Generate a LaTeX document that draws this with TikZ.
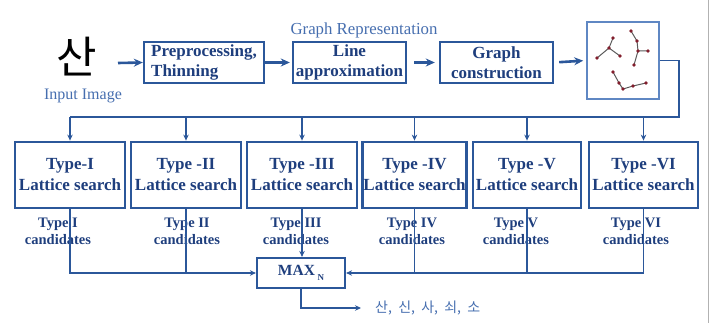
\documentclass[tikz,border=0pt]{standalone}
\usepackage{fontspec}
\setmainfont{Liberation Serif}
\newfontfamily\kr{Noto Sans CJK KR}
\usetikzlibrary{arrows.meta}
\definecolor{bl}{RGB}{43,87,154}
\definecolor{tx}{RGB}{30,62,125}
\definecolor{lt}{RGB}{70,110,175}
\definecolor{gb}{RGB}{95,135,195}
\definecolor{dotc}{RGB}{130,30,45}
\begin{document}
\begin{tikzpicture}[x=1pt,y=-1pt,
  box/.style={draw=bl, line width=2.4pt, inner sep=0pt, text=tx, align=center,
    font=\bfseries\fontsize{17}{20}\selectfont},
  tbox/.style={box, line width=2.8pt, minimum height=66, font=\bfseries\fontsize{17}{21}\selectfont},
  cand/.style={text=tx, align=center, inner sep=0pt, font=\bfseries\fontsize{14.5}{17}\selectfont},
  fat/.style={draw=bl, line width=2.6pt, -{Stealth[length=9pt,width=8pt]}},
  conn/.style={draw=bl, line width=1.6pt},
  carrow/.style={conn, -{Stealth[length=6pt,width=5.5pt]}},
  gline/.style={draw=black!65, line width=1pt},
  gdot/.style={fill=dotc, draw=none, circle, minimum size=3.6pt, inner sep=0pt}
]
\useasboundingbox (0,0) rectangle (711,323);
\draw[black!30, line width=1.6pt] (708.5,0) -- (708.5,323);

% top row
\node[inner sep=0pt, font=\kr\fontsize{44}{44}\selectfont] (s) at (77,57) {산};
\node[inner sep=0pt, text=lt, font=\fontsize{16}{18}\selectfont] (ii) at (83,96) {Input Image};
\node[box, minimum width=120, minimum height=41, align=left] (p) at (204,62.5) {Preprocessing,\\Thinning};
\node[box, minimum width=113, minimum height=41] (l) at (349.5,62.5) {Line\\approximation};
\node[box, minimum width=113, minimum height=41] (c) at (496.5,62.5) {Graph\\construction};
\node[draw=gb, line width=1.6pt, minimum width=72, minimum height=77, inner sep=0pt] (g) at (623,60.5) {};
\node[inner sep=0pt, text=lt, font=\fontsize{16.8}{18}\selectfont] (gr) at (364,30) {Graph Representation};

\coordinate (a0) at (118,63);
\draw[fat] (a0) -- (p.west);
\draw[fat, shorten >=2pt] (p.east) -- (l.west);
\draw[fat, shorten <=7pt, shorten >=4pt] (l.east) -- (c.west);
\draw[fat, shorten <=5pt, shorten >=3pt] (c.east) -- (g.west);

% graph sketch
\coordinate (q1) at (609,48);
\coordinate (q2) at (613,38);
\coordinate (q3) at (597,58);
\coordinate (q4) at (620,56);
\draw[gline] (q2) -- (q1) -- (q3) (q1) -- (q4);
\coordinate (r1) at (631,31);
\coordinate (r2) at (637,41);
\coordinate (r3) at (638,51);
\coordinate (r4) at (648,51);
\coordinate (r5) at (634,65);
\draw[gline] (r1) -- (r2) -- (r3) -- (r5) (r3) -- (r4);
\coordinate (u1) at (613,72);
\coordinate (u2) at (619,83);
\coordinate (u3) at (623,89);
\coordinate (u4) at (633,86);
\coordinate (u5) at (646,83);
\draw[gline] (u1) -- (u2) -- (u3) -- (u4) -- (u5);
\foreach \p in {q1,q2,q3,q4,r1,r2,r3,r4,r5,u1,u2,u3,u4,u5}
  \node[gdot] at (\p) {};

% type boxes
\node[tbox, minimum width=110] (t1) at (70,175) {Type-I\\Lattice search};
\node[tbox, minimum width=110] (t2) at (186,175) {Type -II\\Lattice search};
\node[tbox, minimum width=110] (t3) at (302,175) {Type -III\\Lattice search};
\node[tbox, minimum width=104] (t4) at (414.5,175) {Type -IV\\Lattice search};
\node[tbox, minimum width=108] (t5) at (527,175) {Type -V\\Lattice search};
\node[tbox, minimum width=109] (t6) at (643.5,175) {Type -VI\\Lattice search};

% bus from graph
\coordinate (bR) at (679,117);
\coordinate (bL) at (70,117);
\draw[conn] (g.east) -| (bR) -- (bL);
\foreach \t in {t1,t2,t3,t4,t5,t6}
  \draw[carrow] (\t.north |- bR) -- (\t.north);

% candidates labels
\node[cand] (c1) at (58,231) {Type I\\candidates};
\node[cand] (c2) at (187,231) {Type II\\candidates};
\node[cand] (c3) at (296,231) {Type III\\candidates};
\node[cand] (c4) at (412,231) {Type IV\\candidates};
\node[cand] (c5) at (516,231) {Type V\\candidates};
\node[cand] (c6) at (636,231) {Type VI\\candidates};

% MAX
\node[draw=bl, line width=2.2pt, minimum width=88, minimum height=30, inner sep=0pt, text=tx,
  font=\bfseries\fontsize{15.5}{18}\selectfont] (m) at (301,273)
  {MAX\,\raisebox{-5pt}{\fontsize{9}{9}\selectfont N}};

\draw[carrow] (t1.south) |- (m.west);
\draw[conn] (t2.south) -- (t2.south |- m.west);
\draw[carrow] (t3.south) -- (t3.south |- m.north);
\draw[carrow] (t6.south) |- (m.east);
\draw[conn] (t4.south) -- (t4.south |- m.east);
\draw[conn] (t5.south) -- (t5.south |- m.east);

% output
\node[anchor=west, inner sep=0pt, text=lt, font=\kr\fontsize{14}{16}\selectfont] (o) at (375,308) {산,\ \ 신,\ \ 사,\ \ 쇠,\ \ 소};
\draw[carrow] (m.south) |- ([xshift=-14pt]o.west);
\end{tikzpicture}
\end{document}
